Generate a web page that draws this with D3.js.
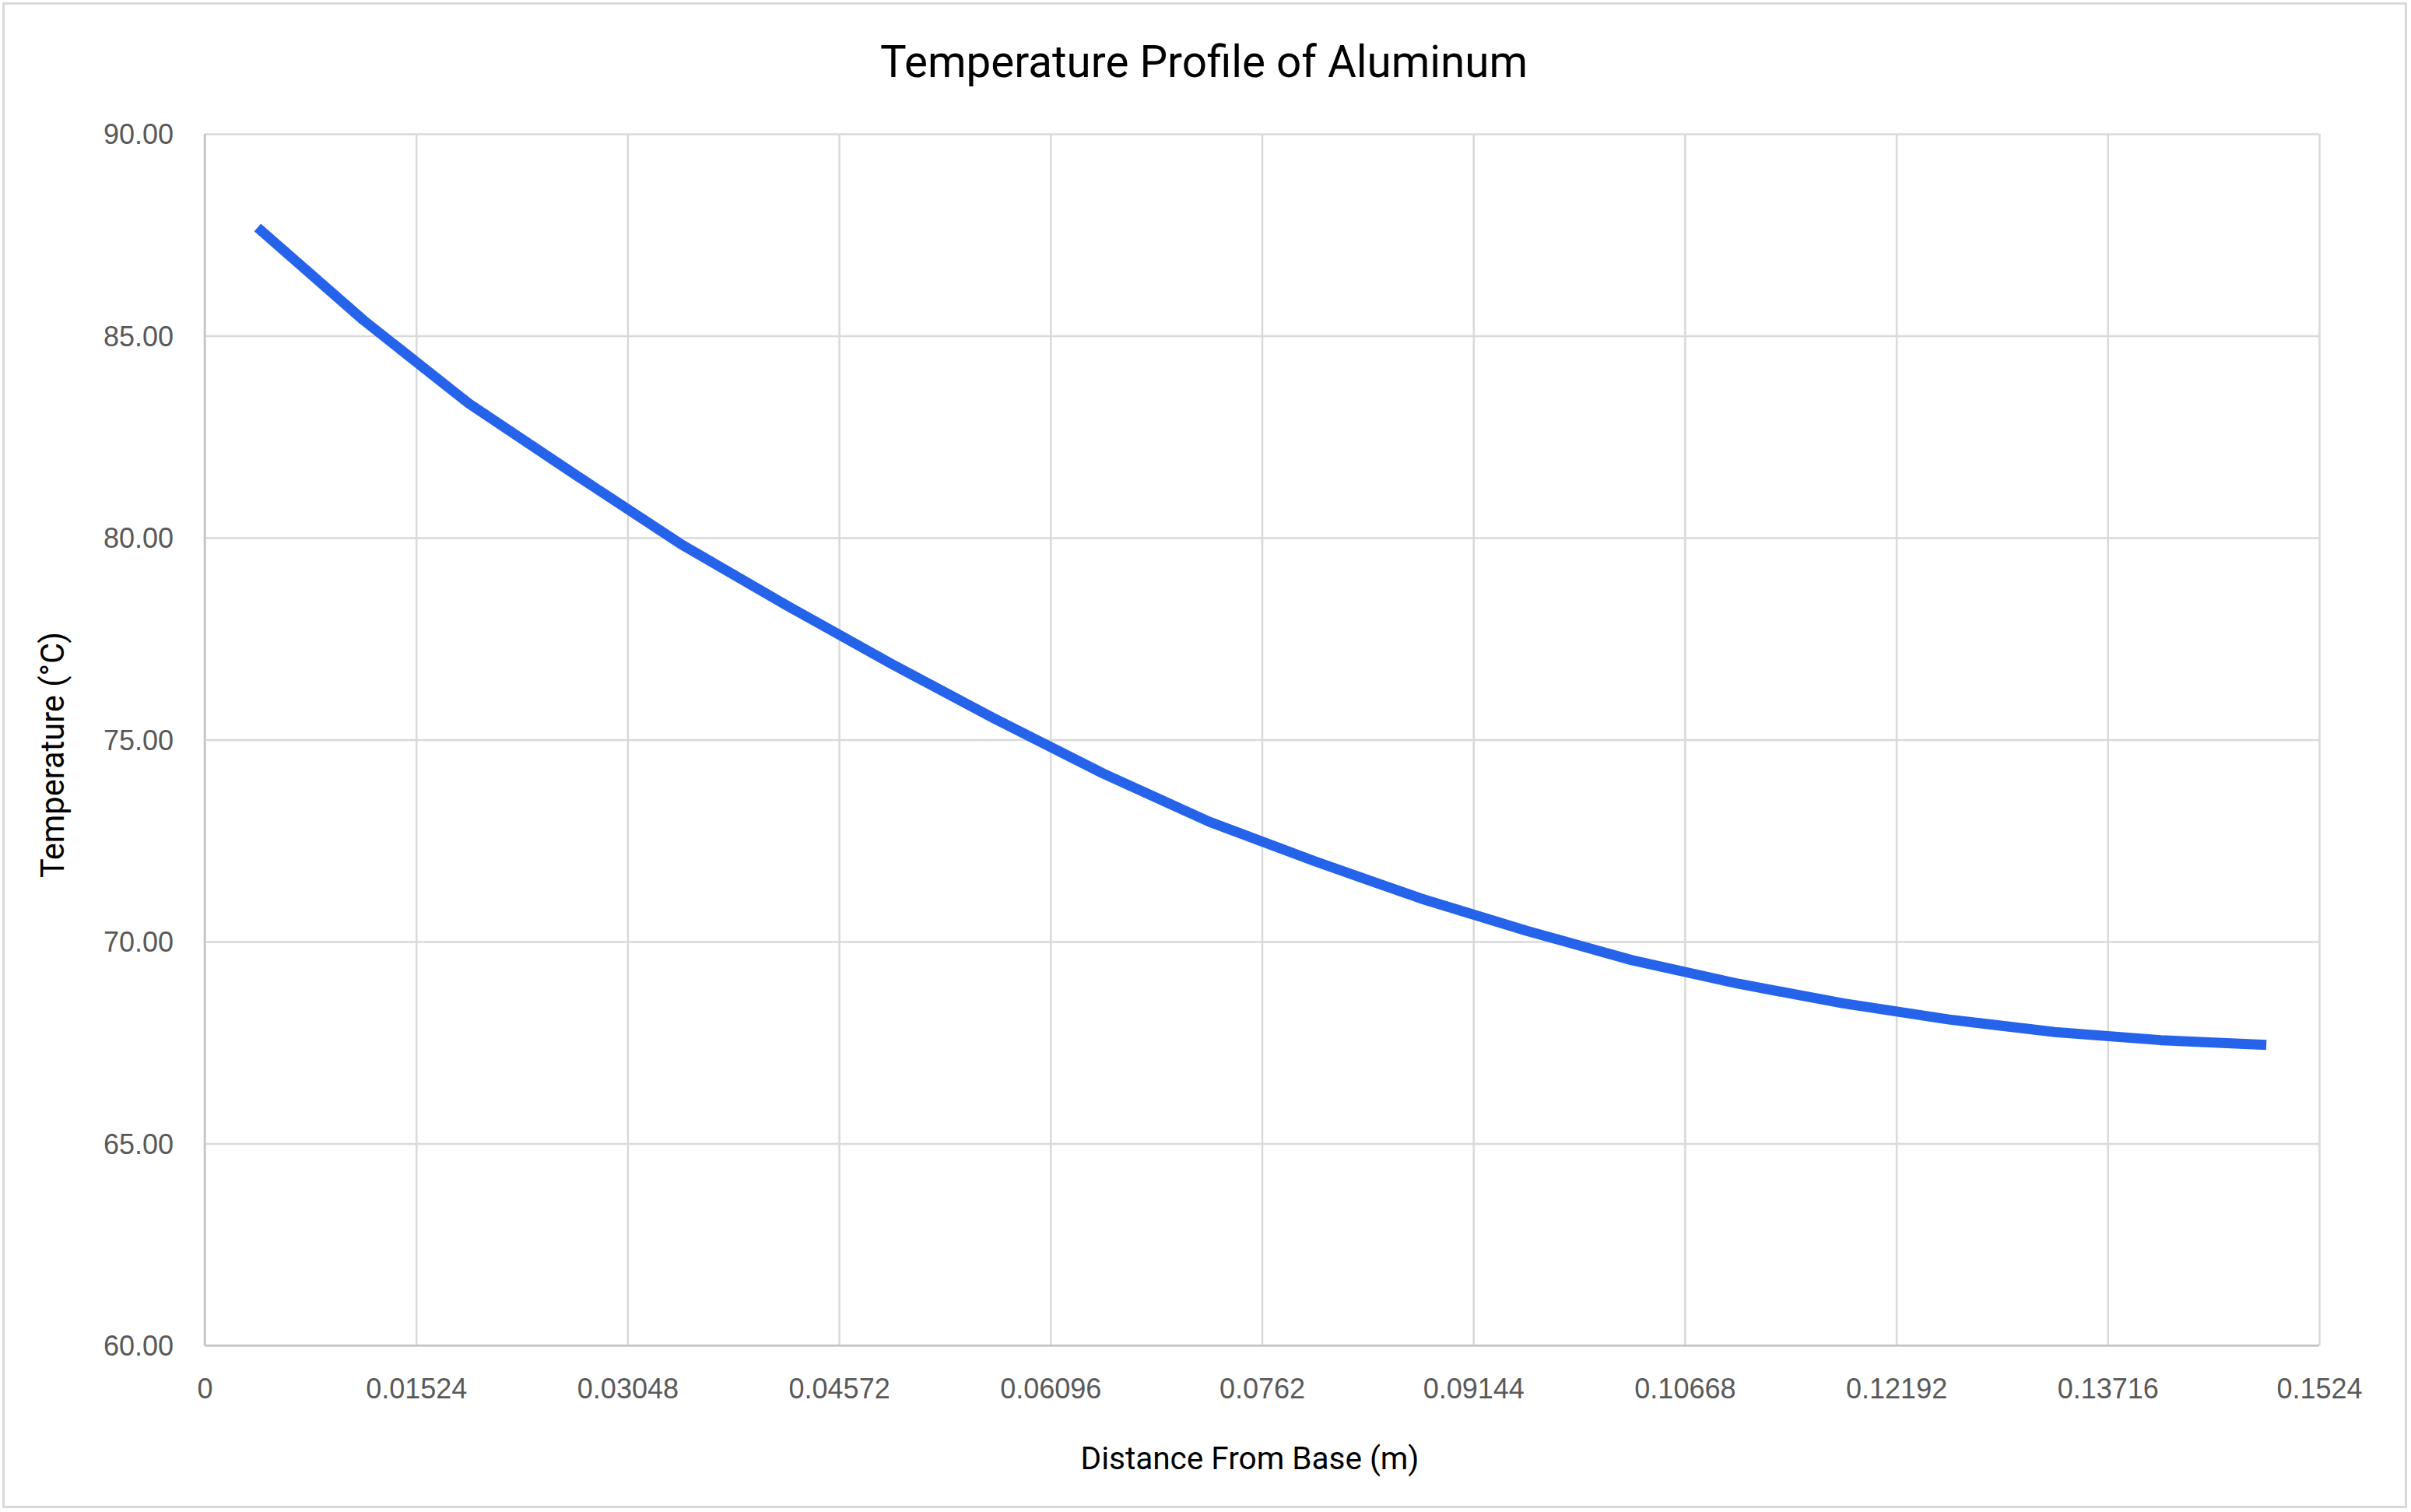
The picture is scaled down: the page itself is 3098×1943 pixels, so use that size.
<!DOCTYPE html>
<html>
<head>
<meta charset="utf-8">
<script src="https://cdn.jsdelivr.net/npm/d3@7"></script>
<style>
  html, body { margin: 0; padding: 0; background: #ffffff; }
  svg { display: block; }
</style>
</head>
<body>
<script>
// ---- Data ----
const distances = [0.00381, 0.01143, 0.01905, 0.02667, 0.03429, 0.04191, 0.04953, 0.05715, 0.06477, 0.07239,
                   0.08001, 0.08763, 0.09525, 0.10287, 0.11049, 0.11811, 0.12573, 0.13335, 0.14097, 0.14859];
const temperatures = [87.68, 85.39, 83.32, 81.57, 79.85, 78.33, 76.87, 75.48, 74.16, 72.97,
                      71.99, 71.07, 70.27, 69.54, 68.96, 68.47, 68.07, 67.76, 67.56, 67.44];
const xTicks = [0, 0.01524, 0.03048, 0.04572, 0.06096, 0.0762, 0.09144, 0.10668, 0.12192, 0.13716, 0.1524];
const xTickLabels = ["0", "0.01524", "0.03048", "0.04572", "0.06096", "0.0762", "0.09144", "0.10668", "0.12192", "0.13716", "0.1524"];
const yTicks = [60, 65, 70, 75, 80, 85, 90];
const titleText = "Temperature Profile of Aluminum";
const xTitleText = "Distance From Base (m)";
const yTitleText = "Temperature (°C)";

// ---- Layout ----
const W = 3098, H = 1943;
const plot = { left: 263, right: 2980, top: 172, bottom: 1729 };
const titleFont = "Roboto, 'Open Sans', sans-serif";
const tickFont = "'Liberation Sans', Arial, sans-serif";

const svg = d3.select("body").append("svg").attr("width", W).attr("height", H);

svg.append("rect").attr("x", 0).attr("y", 0).attr("width", W).attr("height", H).attr("fill", "#ffffff");
svg.append("rect").attr("x", 4.5).attr("y", 4.5).attr("width", 3087).attr("height", 1932)
  .attr("fill", "none").attr("stroke", "#d9d9d9").attr("stroke-width", 3);

const x = d3.scaleLinear().domain([0, 0.1524]).range([plot.left, plot.right]);
const y = d3.scaleLinear().domain([60, 90]).range([plot.bottom, plot.top]);

// Gridlines
const grid = svg.append("g");
grid.append("g")
  .attr("transform", `translate(0,${plot.bottom})`)
  .call(d3.axisBottom(x).tickValues(xTicks).tickSize(-(plot.bottom - plot.top)).tickFormat(""))
  .call(g => g.select(".domain").remove())
  .call(g => g.selectAll("line").attr("stroke", "#d9d9d9").attr("stroke-width", 2.5));
grid.append("g")
  .attr("transform", `translate(${plot.left},0)`)
  .call(d3.axisLeft(y).tickValues(yTicks).tickSize(-(plot.right - plot.left)).tickFormat(""))
  .call(g => g.select(".domain").remove())
  .call(g => g.selectAll("line").attr("stroke", "#d9d9d9").attr("stroke-width", 2.5));

// Axis lines
svg.append("line").attr("x1", plot.left).attr("x2", plot.left).attr("y1", plot.top).attr("y2", plot.bottom)
  .attr("stroke", "#c4c4c4").attr("stroke-width", 2.5);
svg.append("line").attr("x1", plot.left).attr("x2", plot.right).attr("y1", plot.bottom).attr("y2", plot.bottom)
  .attr("stroke", "#c4c4c4").attr("stroke-width", 2.5);

// Tick labels via axes
const xAxis = svg.append("g")
  .attr("transform", `translate(0,${plot.bottom})`)
  .call(d3.axisBottom(x).tickValues(xTicks).tickSize(0).tickPadding(0)
        .tickFormat((d, i) => xTickLabels[i]));
xAxis.select(".domain").remove();
xAxis.selectAll("text")
  .attr("y", 68).attr("dy", null)
  .attr("font-family", tickFont).attr("font-size", 36).attr("fill", "#595959");

const yAxis = svg.append("g")
  .attr("transform", `translate(${plot.left},0)`)
  .call(d3.axisLeft(y).tickValues(yTicks).tickSize(0).tickPadding(0).tickFormat(d3.format(".2f")));
yAxis.select(".domain").remove();
yAxis.selectAll("text")
  .attr("x", -40).attr("dy", "0.36em")
  .attr("font-family", tickFont).attr("font-size", 36).attr("fill", "#595959");

// Line
const line = d3.line().x((d, i) => x(distances[i])).y(d => y(d));
svg.append("path").datum(temperatures)
  .attr("d", line)
  .attr("fill", "none").attr("stroke", "#2563eb").attr("stroke-width", 13)
  .attr("stroke-linejoin", "round").attr("stroke-linecap", "butt");

// Text helper: fit width
function fitText(sel, targetWidth) {
  const node = sel.node();
  const fs = parseFloat(sel.attr("font-size"));
  const w = node.getComputedTextLength();
  if (w > 0) sel.attr("font-size", (fs * targetWidth / w).toFixed(2));
}

// Title
const title = svg.append("text").attr("x", 1547).attr("y", 99)
  .attr("text-anchor", "middle").attr("font-family", titleFont).attr("font-size", 56)
  .attr("fill", "#000000").text(titleText);
fitText(title, 832);

// X axis title
const xt = svg.append("text").attr("x", 1606).attr("y", 1888)
  .attr("text-anchor", "middle").attr("font-family", titleFont).attr("font-size", 42)
  .attr("fill", "#000000").text(xTitleText);
fitText(xt, 435);

// Y axis title
const yt = svg.append("text")
  .attr("transform", "translate(82,970) rotate(-90)")
  .attr("text-anchor", "middle").attr("font-family", titleFont).attr("font-size", 42)
  .attr("fill", "#000000").text(yTitleText);
fitText(yt, 316);
</script>
</body>
</html>
